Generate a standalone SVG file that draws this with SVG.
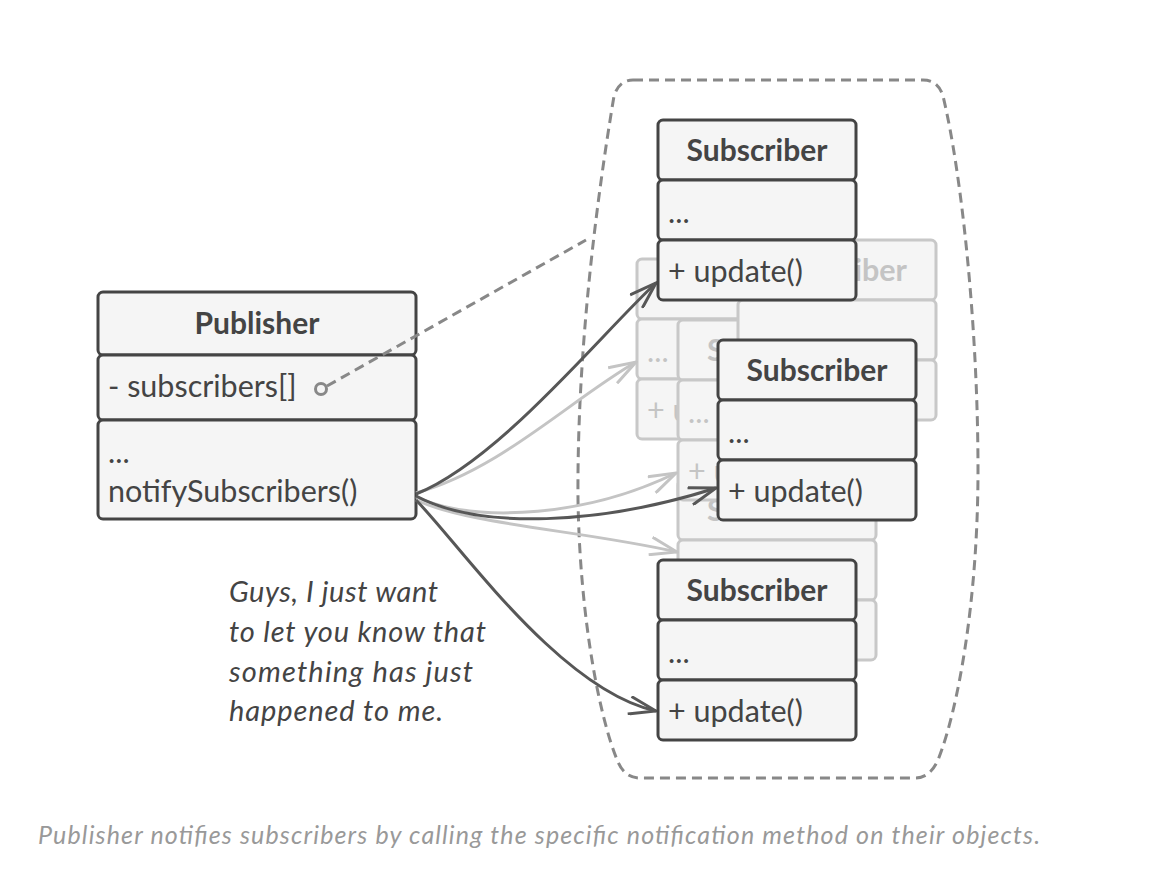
<svg xmlns="http://www.w3.org/2000/svg" width="1160" height="882" viewBox="0 0 1160 882">
<defs>
<style>
.box rect{fill:#f5f5f5;stroke:#444;stroke-width:3}
.ghost rect{fill:#f5f5f5;stroke:#c8c8c8;stroke-width:3}
text{font-family:Lato,"Liberation Sans",sans-serif;font-size:30.5px}
.box text{fill:#444}
.ghost text{fill:#c4c4c4}
.title{font-weight:bold;text-anchor:middle;font-size:30px}
.dark{fill:none;stroke:#575757;stroke-width:3}
.light{fill:none;stroke:#c4c4c4;stroke-width:3}
.dash{fill:none;stroke:#888;stroke-width:3;stroke-dasharray:10 6}
.note{font-style:italic;fill:#444;font-size:29px}
.caption{font-style:italic;fill:#999;font-size:25px}
</style>
<marker id="ad" viewBox="0 0 30 20" refX="28" refY="10" markerWidth="30" markerHeight="20" orient="auto" markerUnits="userSpaceOnUse">
<path d="M1,1 L28,10 L1,19" fill="none" stroke="#575757" stroke-width="3"/>
</marker>
<marker id="al" viewBox="0 0 30 20" refX="28" refY="10" markerWidth="30" markerHeight="20" orient="auto" markerUnits="userSpaceOnUse">
<path d="M1,1 L28,10 L1,19" fill="none" stroke="#c4c4c4" stroke-width="3"/>
</marker>
</defs>
<rect width="1160" height="882" fill="#fff"/>

<g id="container">
<path class="dash" d="M633,80 H923 Q938,80 943,96 C962,175 978,330 978,470 C978,600 958,710 938,760 Q930,778 915,778 H640 Q625,778 618,762 C600,720 580,620 578,500 C577,380 590,240 614,96 Q619,80 633,80 Z"/>
</g>

<g id="publisher" class="box">
<rect x="98" y="292" width="318" height="63" rx="5"/>
<rect x="98" y="355" width="318" height="65" rx="5"/>
<rect x="98" y="420" width="318" height="99" rx="5"/>
<text class="title" x="257" y="334">Publisher</text>
<text x="108" y="397">- subscribers[]</text>
<text x="108" y="463">...</text>
<text x="108" y="502">notifySubscribers()</text>
</g>

<g id="ghost-a" class="ghost">
<rect x="637" y="259" width="198" height="60" rx="5"/>
<rect x="637" y="319" width="198" height="60" rx="5"/>
<rect x="637" y="379" width="198" height="60" rx="5"/>
<text x="647" y="362">...</text>
<text x="647" y="421">+ u</text>
</g>
<g id="ghost-d" class="ghost">
<rect x="678" y="480" width="198" height="60" rx="5"/>
<rect x="678" y="540" width="198" height="60" rx="5"/>
<rect x="678" y="600" width="198" height="60" rx="5"/>
<text x="707" y="521" font-weight="bold" font-size="30">S</text>
</g>
<g id="ghost-c" class="ghost">
<rect x="678" y="320" width="198" height="60" rx="5"/>
<rect x="678" y="380" width="198" height="60" rx="5"/>
<rect x="678" y="440" width="198" height="60" rx="5"/>
<text x="707" y="361" font-weight="bold" font-size="30">S</text>
<text x="688" y="423">...</text>
<text x="688" y="482">+ u</text>
</g>
<g id="ghost-b" class="ghost">
<rect x="738" y="240" width="198" height="60" rx="5"/>
<rect x="738" y="300" width="198" height="60" rx="5"/>
<rect x="738" y="360" width="198" height="60" rx="5"/>
<text x="907" y="281" font-weight="bold" font-size="30" text-anchor="end">iber</text>
</g>

<g id="connectors">
<path class="dash" d="M327,386 L586,240"/>
<circle cx="321" cy="389" r="5.5" fill="#f5f5f5" stroke="#888" stroke-width="3"/>
<path class="light" marker-end="url(#al)" d="M416,493 C500,470 570,400 636,362"/>
<path class="light" marker-end="url(#al)" d="M416,497 C480,525 590,515 676,473"/>
<path class="light" marker-end="url(#al)" d="M416,500 C470,525 580,530 677,552"/>
<path class="dark" marker-end="url(#ad)" d="M416,494 C500,460 600,335 656,283"/>
<path class="dark" marker-end="url(#ad)" d="M416,496 C480,530 600,525 716,488"/>
<path class="dark" marker-end="url(#ad)" d="M416,500 C460,545 560,690 656,711"/>
</g>

<g id="subscriber-top" class="box">
<rect x="658" y="120" width="198" height="60" rx="5"/>
<rect x="658" y="180" width="198" height="60" rx="5"/>
<rect x="658" y="240" width="198" height="60" rx="5"/>
<text class="title" x="757" y="161">Subscriber</text>
<text x="668" y="223">...</text>
<text x="668" y="282">+ update()</text>
</g>
<g id="subscriber-middle" class="box">
<rect x="718" y="340" width="198" height="60" rx="5"/>
<rect x="718" y="400" width="198" height="60" rx="5"/>
<rect x="718" y="460" width="198" height="60" rx="5"/>
<text class="title" x="817" y="381">Subscriber</text>
<text x="728" y="443">...</text>
<text x="728" y="502">+ update()</text>
</g>
<g id="subscriber-bottom" class="box">
<rect x="658" y="560" width="198" height="60" rx="5"/>
<rect x="658" y="620" width="198" height="60" rx="5"/>
<rect x="658" y="680" width="198" height="60" rx="5"/>
<text class="title" x="757" y="601">Subscriber</text>
<text x="668" y="663">...</text>
<text x="668" y="722">+ update()</text>
</g>

<g id="note">
<text class="note" x="229" y="602" textLength="209" lengthAdjust="spacing">Guys, I just want</text>
<text class="note" x="229" y="642" textLength="257" lengthAdjust="spacing">to let you know that</text>
<text class="note" x="229" y="682" textLength="244" lengthAdjust="spacing">something has just</text>
<text class="note" x="229" y="721" textLength="214" lengthAdjust="spacing">happened to me.</text>
</g>

<text class="caption" x="38" y="844" textLength="1002" lengthAdjust="spacing">Publisher notifies subscribers by calling the specific notification method on their objects.</text>
</svg>
